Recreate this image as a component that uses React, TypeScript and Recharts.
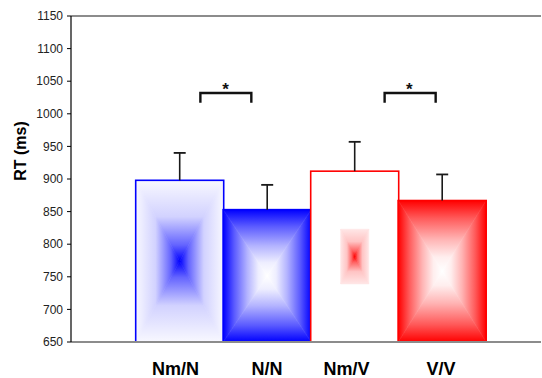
import React from 'react';
import { BarChart, Bar, XAxis, YAxis, ReferenceLine } from 'recharts';

const categories = ['Nm/N', 'N/N', 'Nm/V', 'V/V'];
const rtMeans = [898, 853, 912, 867];
const rtErrors = [42, 38, 45, 40];
const yTicks = [650, 700, 750, 800, 850, 900, 950, 1000, 1050, 1100, 1150];
const yDomain = [650, 1150];
// significance comparisons: left bar index, bracket start/end/star in bar widths from that bar's left edge
const sigBar = [0, 2];
const sigStart = [0.735, 0.84];
const sigEnd = [1.314, 1.42];
const sigStar = [1.02, 1.12];
const sigLevel = 1032;
const sigLeg = 1017;
const sigStarBase = 1041;

const data = categories.map((c, i) => ({ name: c, rt: rtMeans[i], err: rtErrors[i] }));

const FONT = '"Liberation Sans", Arial, sans-serif';

type Stop = [number, string];
const blueCenter: Stop[] = [[0, '#f8f8ff'], [0.45, '#d2d2ff'], [0.8, '#6464ff'], [1, '#0000ff']];
const blueEdge: Stop[] = [[0, '#0000ff'], [0.25, '#5a5aff'], [0.55, '#b4b4ff'], [0.8, '#eeeeff'], [1, '#ffffff']];
const redCenter: Stop[] = [[0, '#ffe6e6'], [0.45, '#ffc4c4'], [0.8, '#ff6060'], [1, '#ff0000']];
const redEdge: Stop[] = [[0, '#ff0000'], [0.25, '#ff5a5a'], [0.55, '#ffb4b4'], [0.8, '#ffeeee'], [1, '#ffffff']];

const barStyles = [
  { stroke: '#0000ff', stops: blueCenter, inner: 1 },
  { stroke: '#0000ff', stops: blueEdge, inner: 1 },
  { stroke: '#ff0000', stops: redCenter, inner: 0.32 },
  { stroke: '#ff0000', stops: redEdge, inner: 1 },
];

const dirs: Record<string, { x1: number; y1: number; x2: number; y2: number }> = {
  t: { x1: 0, y1: 0, x2: 0, y2: 1 },
  b: { x1: 0, y1: 1, x2: 0, y2: 0 },
  l: { x1: 0, y1: 0, x2: 1, y2: 0 },
  r: { x1: 1, y1: 0, x2: 0, y2: 0 },
};

function BoxBar(props: any) {
  const { x, y, width, height, index, payload } = props;
  if (width == null || height == null) return null;
  const st = barStyles[index % barStyles.length];
  const cx = x + width / 2;
  const cy = y + height / 2;
  const iw = width * st.inner;
  const ih = height * st.inner;
  const ix = cx - iw / 2;
  const iy = cy - ih / 2;
  const id = `boxbar${index}`;
  const tris: Record<string, string> = {
    t: `${ix},${iy} ${ix + iw},${iy} ${cx},${cy}`,
    b: `${ix},${iy + ih} ${ix + iw},${iy + ih} ${cx},${cy}`,
    l: `${ix},${iy} ${ix},${iy + ih} ${cx},${cy}`,
    r: `${ix + iw},${iy} ${ix + iw},${iy + ih} ${cx},${cy}`,
  };
  const pxPerUnit = height / (payload.rt - yDomain[0]);
  const yOf = (v: number) => y - (v - payload.rt) * pxPerUnit;
  const errTop = yOf(payload.rt + payload.err);
  const sig = sigBar.indexOf(index);
  return (
    <g>
      <defs>
        {Object.keys(dirs).map((k) => (
          <linearGradient key={k} id={`${id}${k}`} {...dirs[k]}>
            {st.stops.map(([o, c], j) => (
              <stop key={j} offset={o} stopColor={c} />
            ))}
          </linearGradient>
        ))}
      </defs>
      <rect x={x} y={y} width={width} height={height} fill="#ffffff" />
      {Object.keys(tris).map((k) => (
        <polygon key={k} points={tris[k]} fill={`url(#${id}${k})`} stroke={`url(#${id}${k})`} strokeWidth={0.6} />
      ))}
      <rect x={x} y={y} width={width} height={height} fill="none" stroke={st.stroke} strokeWidth={1.6} />
      <line x1={cx} y1={y} x2={cx} y2={errTop} stroke="#1a1a1a" strokeWidth={1.6} />
      <line x1={cx - 6} y1={errTop} x2={cx + 6} y2={errTop} stroke="#1a1a1a" strokeWidth={1.8} />
      {sig >= 0 && (
        <g>
          <polyline
            points={`${x + sigStart[sig] * width},${yOf(sigLeg)} ${x + sigStart[sig] * width},${yOf(sigLevel)} ${x + sigEnd[sig] * width},${yOf(sigLevel)} ${x + sigEnd[sig] * width},${yOf(sigLeg)}`}
            fill="none"
            stroke="#111"
            strokeWidth={2.4}
          />
          <text
            x={x + sigStar[sig] * width}
            y={yOf(sigStarBase) + 8}
            textAnchor="middle"
            fontFamily={FONT}
            fontWeight="bold"
            fontSize={17}
            fill="#111"
          >
            *
          </text>
        </g>
      )}
    </g>
  );
}

const labelShift = [-4, 0, -8, -1];

function XTick(props: any) {
  const { x, y, payload, index } = props;
  return (
    <text
      x={x + (labelShift[index] || 0)}
      y={y + 12.8}
      textAnchor="middle"
      fontFamily={FONT}
      fontWeight="bold"
      fontSize={18}
      fill="#000"
    >
      {payload.value}
    </text>
  );
}

export default function App() {
  return (
    <div style={{ position: 'absolute', left: 0, top: 0, width: 542, height: 378, background: '#fff' }}>
      <BarChart
        width={542}
        height={378}
        data={data}
        margin={{ top: 16, right: 1, left: 0, bottom: 0 }}
        barCategoryGap={0}
        barGap={0}
      >
        <XAxis
          dataKey="name"
          height={36}
          padding={{ left: 64.7, right: 55.3 }}
          axisLine={{ stroke: '#8c8c8c', strokeWidth: 2 }}
          tickLine={false}
          tickSize={0}
          tickMargin={20}
          interval={0}
          tick={<XTick />}
        />
        <YAxis
          width={71}
          domain={yDomain}
          ticks={yTicks}
          interval={0}
          allowDataOverflow
          axisLine={{ stroke: '#000', strokeWidth: 1.2 }}
          tickLine={{ stroke: '#000' }}
          tickSize={4}
          tickMargin={4}
          tick={{ fontSize: 12, fill: '#222', fontFamily: FONT }}
          label={{
            content: () => (
              <text
                x={26}
                y={151}
                transform="rotate(-90 26 151)"
                textAnchor="middle"
                fontFamily={FONT}
                fontWeight="bold"
                fontSize={16}
                fill="#000"
              >
                RT (ms)
              </text>
            ),
          }}
        />
        <ReferenceLine y={1150} stroke="#8c8c8c" strokeWidth={2} ifOverflow="visible" />
        <Bar dataKey="rt" isAnimationActive={false} shape={<BoxBar />} />
      </BarChart>
    </div>
  );
}
